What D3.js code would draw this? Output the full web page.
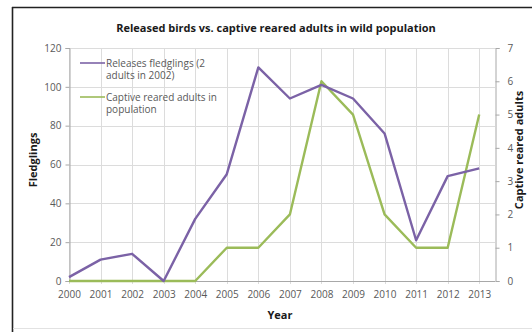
<!DOCTYPE html>
<html>
<head>
<meta charset="utf-8">
<script src="https://cdn.jsdelivr.net/npm/d3@7"></script>
<style>
  html, body { margin: 0; padding: 0; background: #fff; }
  svg { display: block; }
  text { font-family: "Open Sans", "DejaVu Sans", sans-serif; }
</style>
</head>
<body>
<svg id="chart" width="532" height="332"></svg>
<script>
// Years on the category axis
const years = [2000, 2001, 2002, 2003, 2004, 2005, 2006, 2007, 2008, 2009, 2010, 2011, 2012, 2013];
// Released fledglings per year (left axis)
const fledglings = [2, 11, 14, 0, 32, 55, 110, 94, 101, 94, 76, 21, 54, 58];
// Captive reared adults in the wild population (right axis)
const captiveAdults = [0, 0, 0, 0, 0, 1, 1, 2, 6, 5, 2, 1, 1, 5];
// Axis ticks
const leftTicks = [0, 20, 40, 60, 80, 100, 120];
const rightTicks = [0, 1, 2, 3, 4, 5, 6, 7];

const title = "Released birds vs. captive reared adults in wild population";
const legendItems = [
  { lines: ["Releases fledglings (2", "adults in 2002)"], color: "#7b62a6" },
  { lines: ["Captive reared adults in", "population"], color: "#9bbb59" }
];

const svg = d3.select("#chart");
const W = 532, H = 332;

const plot = { left: 69, right: 495, top: 48, bottom: 281 };

const x = d3.scaleLinear().domain([2000, 2013.5]).range([plot.left, plot.right]);
const yL = d3.scaleLinear().domain([0, 120]).range([plot.bottom, plot.top]);
const yR = d3.scaleLinear().domain([0, 7]).range([plot.bottom, plot.top]);

// Frame around the chart area
svg.append("rect").attr("x", 0).attr("y", 0).attr("width", W).attr("height", H).attr("fill", "#fff");
svg.append("line").attr("x1", 12.5).attr("x2", 12.5).attr("y1", 7).attr("y2", 332)
  .attr("stroke", "#222").attr("stroke-width", 1.6);
svg.append("line").attr("x1", 12).attr("x2", 532).attr("y1", 7.5).attr("y2", 7.5)
  .attr("stroke", "#222").attr("stroke-width", 1.6);
svg.append("line").attr("x1", 13).attr("x2", 532).attr("y1", 328.5).attr("y2", 328.5)
  .attr("stroke", "#e2e2e2").attr("stroke-width", 1);

// Gridlines
const grid = svg.append("g");
grid.selectAll("line.v").data(years).join("line")
  .attr("x1", d => Math.round(x(d)) + 0.5).attr("x2", d => Math.round(x(d)) + 0.5)
  .attr("y1", plot.top).attr("y2", plot.bottom + 3)
  .attr("stroke", "#dcdcdc").attr("stroke-width", 1);
grid.selectAll("line.h").data(leftTicks).join("line")
  .attr("x1", plot.left).attr("x2", plot.right)
  .attr("y1", d => Math.round(yL(d)) + 0.5).attr("y2", d => Math.round(yL(d)) + 0.5)
  .attr("stroke", "#dcdcdc").attr("stroke-width", 1);

// Axes
const axisColor = "#a8a8a8";
const tickColor = "#595959";

const gL = svg.append("g").attr("transform", `translate(${plot.left + 0.5},0)`)
  .call(d3.axisLeft(yL).tickValues(leftTicks).tickSize(4).tickPadding(4).tickFormat(d3.format("d")));
const gR = svg.append("g").attr("transform", `translate(${plot.right + 0.5},0)`)
  .call(d3.axisRight(yR).tickValues(rightTicks).tickSize(4).tickPadding(8).tickFormat(d3.format("d")));
const gX = svg.append("g").attr("transform", `translate(0,${plot.bottom + 0.5})`)
  .call(d3.axisBottom(x).tickValues(years).tickSize(0).tickPadding(9).tickFormat(d3.format("d")));

[gL, gR, gX].forEach(g => {
  g.select(".domain").attr("stroke", axisColor);
  g.selectAll(".tick line").attr("stroke", axisColor);
  g.selectAll(".tick text").attr("fill", tickColor)
    .style("font-family", '"Open Sans", sans-serif').style("font-size", "10px");
});
gX.select(".domain").remove();
svg.append("line").attr("x1", plot.left).attr("x2", plot.right)
  .attr("y1", plot.bottom + 0.5).attr("y2", plot.bottom + 0.5).attr("stroke", axisColor);

// Series lines
const lineL = d3.line().x((d, i) => x(years[i])).y(d => yL(d));
const lineR = d3.line().x((d, i) => x(years[i])).y(d => yR(d));

svg.append("path").datum(captiveAdults).attr("d", lineR)
  .attr("fill", "none").attr("stroke", "#9bbb59").attr("stroke-width", 2.4)
  .attr("stroke-linejoin", "round");
svg.append("path").datum(fledglings).attr("d", lineL)
  .attr("fill", "none").attr("stroke", "#7b62a6").attr("stroke-width", 2.4)
  .attr("stroke-linejoin", "round");

// Title
svg.append("text").attr("x", 276).attr("y", 32).attr("text-anchor", "middle")
  .attr("fill", "#1a1a1a").style("font-size", "11px").style("font-weight", "bold")
  .text(title);

// Axis titles
svg.append("text").attr("transform", "translate(37,160) rotate(-90)")
  .attr("text-anchor", "middle").attr("fill", "#1a1a1a")
  .style("font-size", "11px").style("font-weight", "bold").text("Fledglings");
svg.append("text").attr("transform", "translate(523,150) rotate(-90)")
  .attr("text-anchor", "middle").attr("fill", "#1a1a1a")
  .style("font-size", "11px").style("font-weight", "bold").text("Captive reared adults");
svg.append("text").attr("x", 280).attr("y", 319).attr("text-anchor", "middle")
  .attr("fill", "#1a1a1a").style("font-size", "11px").style("font-weight", "bold").text("Year");

// Legend
const legend = svg.append("g");
legendItems.forEach((item, i) => {
  const y0 = 63 + i * 34;
  legend.append("line").attr("x1", 80).attr("x2", 105).attr("y1", y0).attr("y2", y0)
    .attr("stroke", item.color).attr("stroke-width", 1.6);
  item.lines.forEach((ln, j) => {
    legend.append("text").attr("x", 106).attr("y", y0 + 3.5 + j * 12.5)
      .attr("fill", "#595959").style("font-size", "10px").text(ln);
  });
});
</script>
</body>
</html>
